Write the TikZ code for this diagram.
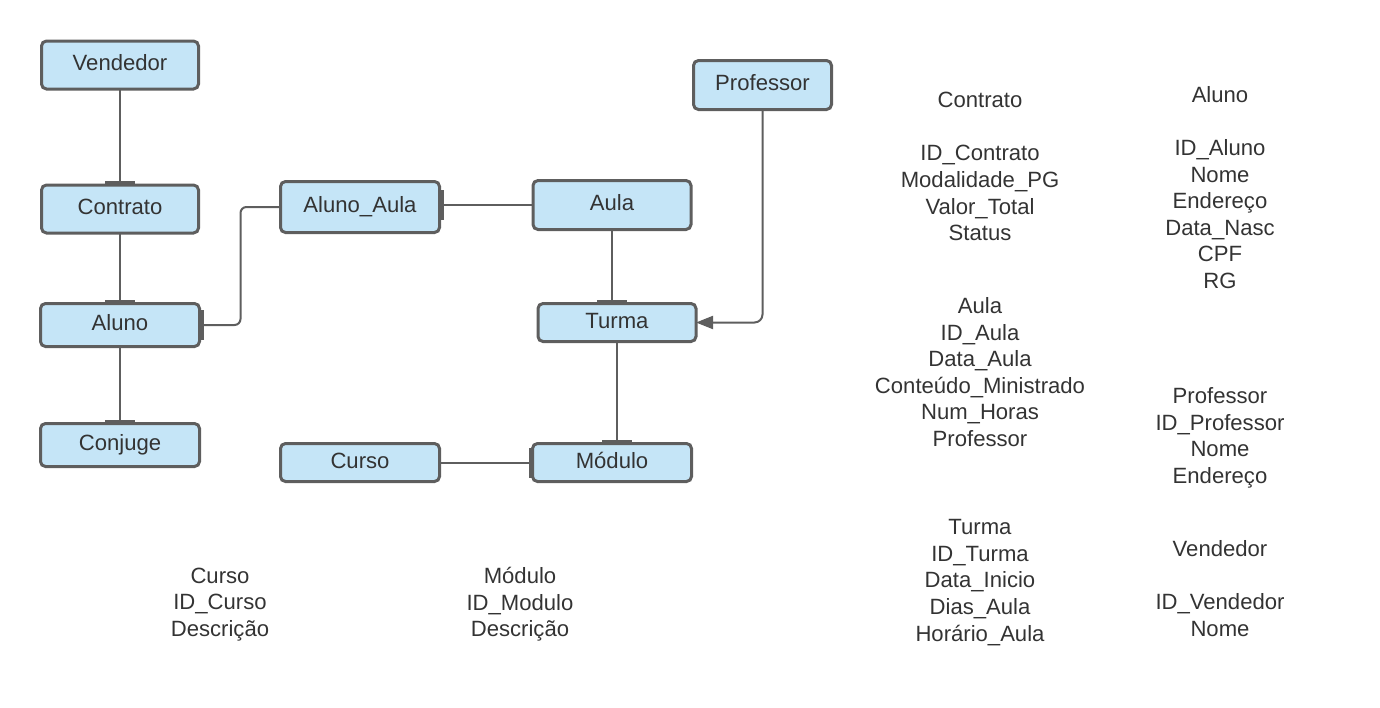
\documentclass[tikz,border=0pt]{standalone}
\usepackage{fontspec}
\setmainfont{Liberation Sans}
\usetikzlibrary{arrows.meta}
\definecolor{boxfill}{HTML}{C5E5F7}
\definecolor{boxline}{HTML}{5E5E5E}
\definecolor{txt}{HTML}{333333}
\tikzset{
  entity/.style={draw=boxline, fill=boxfill, line width=3pt, rounded corners=5pt,
    inner sep=0pt, outer sep=0pt, text=txt, text height=16pt, text depth=5pt,
    font=\fontsize{22.1}{26}\selectfont},
  conn/.style={draw=boxline, line width=2pt},
  onebar/.style={-{Bar[width=30pt,line width=4pt]}},
  attrs/.style={align=center, text=txt, inner sep=0pt, font=\fontsize{22.1}{26.6}\selectfont}
}
\begin{document}
\begin{tikzpicture}[x=1pt,y=-1pt]
\useasboundingbox (0,0) rectangle (1380,707);
% entities
\node[entity, minimum width=157pt, minimum height=48pt] (Vendedor) at (120,65) {Vendedor};
\node[entity, minimum width=157pt, minimum height=48pt] (Contrato) at (120,209) {Contrato};
\node[entity, minimum width=159pt, minimum height=43pt] (Aluno) at (120,325) {Aluno};
\node[entity, minimum width=159pt, minimum height=43pt] (Conjuge) at (120,445) {Conjuge};
\node[entity, minimum width=159pt, minimum height=51pt] (AlunoAula) at (360,207) {Aluno\_Aula};
\node[entity, minimum width=158pt, minimum height=49pt] (Aula) at (612,205) {Aula};
\node[entity, minimum width=158pt, minimum height=38pt] (Turma) at (617,322.5) {Turma};
\node[entity, minimum width=138pt, minimum height=49pt] (Professor) at (762.5,85) {Professor};
\node[entity, minimum width=159pt, minimum height=38pt] (Curso) at (360,462.5) {Curso};
\node[entity, minimum width=159pt, minimum height=38pt] (Modulo) at (612,462.5) {Módulo};
% connectors
\draw[conn, onebar] (Vendedor.south) -- (Contrato.north);
\draw[conn, onebar] (Contrato.south) -- (Aluno.north);
\draw[conn, onebar] (Aluno.south) -- (Conjuge.north);
\draw[conn, onebar, rounded corners=6pt] (AlunoAula.west) -- ++(-40,0) |- (Aluno.east);
\draw[conn, onebar] (Aula.west) -- (Aula.west -| AlunoAula.east);
\draw[conn, onebar] (Aula.south) -- (Aula.south |- Turma.north);
\draw[conn, onebar] (Turma.south) -- (Turma.south |- Modulo.north);
\draw[conn, onebar] (Curso.east |- 0,463) -- (Modulo.west |- 0,463);
\draw[conn, rounded corners=8pt, -{Triangle[length=17pt,width=13pt]}] (Professor.south) |- (Turma.east);
% attribute lists
\node[attrs] (tContrato) at (980,166.5) {Contrato\\[26.6pt]ID\_Contrato\\Modalidade\_PG\\Valor\_Total\\Status};
\node[attrs] (tAluno) at (1220,187.5) {Aluno\\[26.6pt]ID\_Aluno\\Nome\\Endereço\\Data\_Nasc\\CPF\\RG};
\node[attrs] (tAula) at (980,372) {Aula\\ID\_Aula\\Data\_Aula\\Conteúdo\_Ministrado\\Num\_Horas\\Professor};
\node[attrs] (tProfessor) at (1220,438) {Professor\\ID\_Professor\\Nome\\Endereço};
\node[attrs] (tTurma) at (980,582.5) {Turma\\ID\_Turma\\Data\_Inicio\\Dias\_Aula\\Horário\_Aula};
\node[attrs] (tVendedor) at (1220,588.5) {Vendedor\\[26.6pt]ID\_Vendedor\\Nome};
\node[attrs] (tCurso) at (220,604.5) {Curso\\ID\_Curso\\Descrição};
\node[attrs] (tModulo) at (520,604.5) {Módulo\\ID\_Modulo\\Descrição};
\end{tikzpicture}
\end{document}
